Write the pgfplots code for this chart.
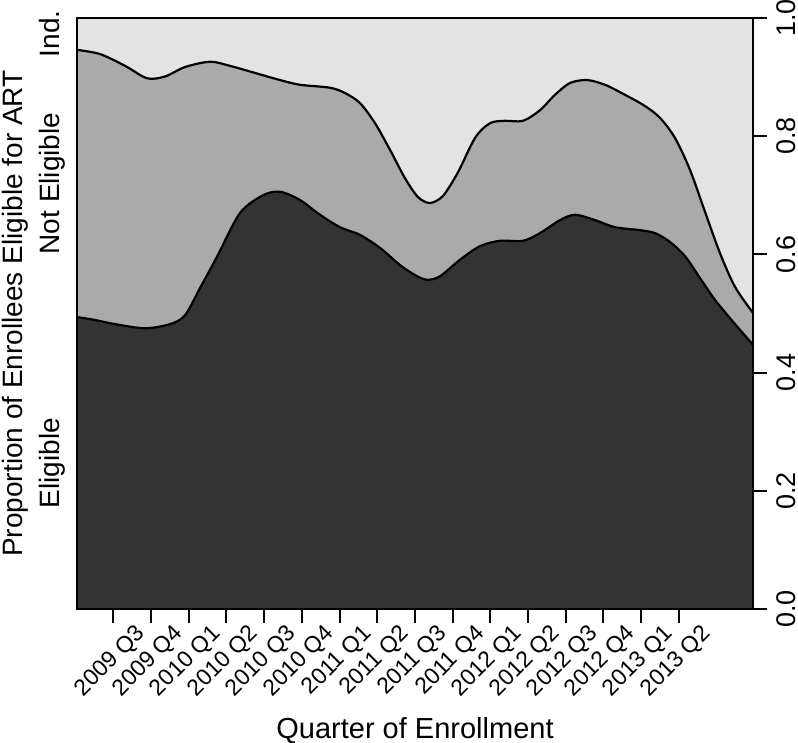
\documentclass[border=0pt]{standalone}
\usepackage{pgfplots}
\pgfplotsset{compat=1.18}
\usepackage{pgfplotstable}
\usepackage{fontspec}
\setmainfont{Liberation Sans}
\usetikzlibrary{calc}
\definecolor{indc}{HTML}{E3E3E3}
\definecolor{notc}{HTML}{AAAAAA}
\definecolor{eligc}{HTML}{333333}

% top of "Eligible" band
\pgfplotstableread{
x y
-0.963 0.494
-0.485 0.489
0.045 0.482
0.841 0.475
1.504 0.482
1.902 0.497
2.300 0.543
2.751 0.596
3.361 0.670
3.971 0.700
4.422 0.706
4.952 0.692
5.483 0.667
6.013 0.646
6.544 0.633
7.074 0.611
7.605 0.582
8.003 0.565
8.321 0.557
8.666 0.563
9.196 0.591
9.727 0.614
10.257 0.623
10.867 0.623
11.318 0.636
11.849 0.658
12.247 0.667
12.777 0.658
13.308 0.646
13.971 0.641
14.369 0.636
14.767 0.621
15.164 0.597
15.562 0.560
15.960 0.523
16.438 0.486
16.968 0.447
}\lowertab

% top of "Not Eligible" band
\pgfplotstableread{
x y
-0.963 0.946
-0.353 0.939
0.313 0.919
0.894 0.898
1.371 0.901
1.902 0.917
2.565 0.926
3.095 0.919
3.759 0.907
4.422 0.895
4.952 0.887
5.748 0.882
6.146 0.873
6.544 0.856
6.942 0.822
7.339 0.777
7.737 0.729
8.082 0.697
8.401 0.687
8.745 0.699
9.143 0.739
9.594 0.797
9.992 0.822
10.390 0.826
10.867 0.826
11.318 0.844
11.716 0.870
12.114 0.890
12.565 0.895
13.042 0.887
13.573 0.870
14.103 0.851
14.501 0.831
14.899 0.797
15.297 0.743
15.695 0.672
16.093 0.602
16.491 0.545
16.968 0.501
}\uppertab

\begin{document}
\begin{tikzpicture}
\begin{axis}[
  name=ax,
  scale only axis, width=676pt, height=591pt,
  xmin=-0.963, xmax=16.968, ymin=0, ymax=1,
  clip=false,
  axis background/.style={fill=indc},
  axis on top,
  axis line style={line width=2pt},
  xtick={0,...,15},
  xticklabels={2009 Q3,2009 Q4,2010 Q1,2010 Q2,2010 Q3,2010 Q4,2011 Q1,2011 Q2,2011 Q3,2011 Q4,2012 Q1,2012 Q2,2012 Q3,2012 Q4,2013 Q1,2013 Q2},
  ytick={0,0.2,0.4,0.6,0.8,1},
  xtick pos=bottom, ytick pos=right, yticklabel pos=right,
  tick align=outside, major tick length=14pt,
  tick style={line width=2pt, black},
  /pgf/number format/assume math mode=true,
  yticklabel style={/pgf/number format/fixed, /pgf/number format/fixed zerofill, /pgf/number format/precision=1, xshift=6pt, rotate=90, anchor=north, font=\fontsize{27}{27}\selectfont},
  xticklabel style={font=\fontsize{23}{23}\selectfont, xshift=31pt, yshift=-5pt, rotate=45, anchor=east},
]
\addplot[fill=notc, draw=none, smooth] table {\uppertab} \closedcycle;
\addplot[fill=eligc, draw=none, smooth] table {\lowertab} \closedcycle;
\addplot[black, line width=2.2pt, smooth] table {\uppertab};
\addplot[black, line width=2.2pt, smooth] table {\lowertab};

\node[xshift=-17pt, rotate=90, anchor=base, font=\fontsize{28}{28}\selectfont] at (rel axis cs:0,0.247) {Eligible};
\node[xshift=-17pt, rotate=90, anchor=base, font=\fontsize{28}{28}\selectfont] at (rel axis cs:0,0.720) {Not Eligible};
\node[xshift=-17pt, rotate=90, anchor=base, font=\fontsize{28}{28}\selectfont] at (rel axis cs:0,0.973) {Ind.};
\node[xshift=-54pt, rotate=90, anchor=base, font=\fontsize{28}{28}\selectfont] at (rel axis cs:0,0.5) {Proportion of Enrollees Eligible for ART};
\node[yshift=-130pt, anchor=base, font=\fontsize{29}{29}\selectfont] at (rel axis cs:0.5,0) {Quarter of Enrollment};
\end{axis}
\pgfresetboundingbox
\path[use as bounding box] ($(ax.south west)+(-77pt,-134pt)$) rectangle ($(ax.north east)+(45pt,18pt)$);
\end{tikzpicture}
\end{document}
